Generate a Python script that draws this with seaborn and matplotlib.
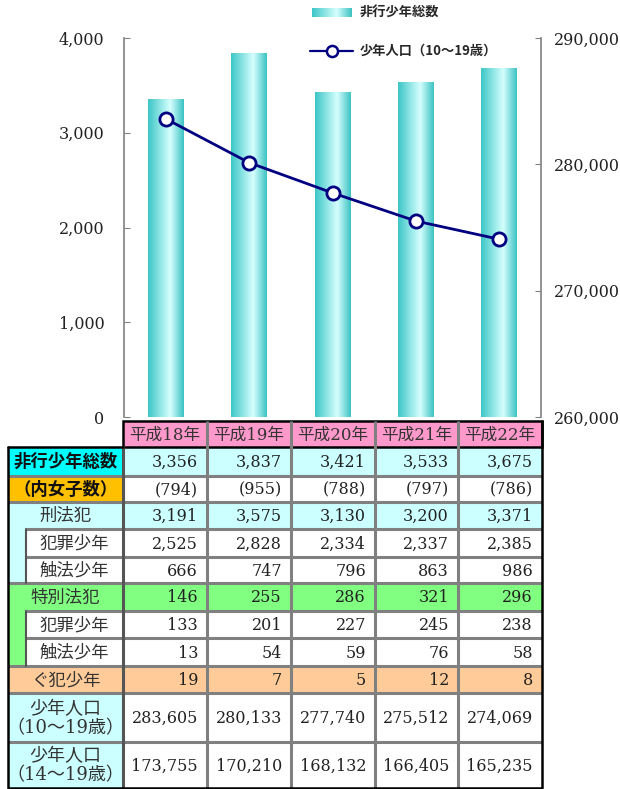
import numpy as np
import pandas as pd
import matplotlib
matplotlib.use('Agg')
import matplotlib.pyplot as plt
import seaborn as sns
from matplotlib.colors import LinearSegmentedColormap
from matplotlib.patches import Rectangle
from matplotlib.ticker import FuncFormatter, MultipleLocator

# data
years = ['平成18年', '平成19年', '平成20年', '平成21年', '平成22年']
delinquent_total = [3356, 3837, 3421, 3533, 3675]
female = [794, 955, 788, 797, 786]
penal = [3191, 3575, 3130, 3200, 3371]
penal_crime = [2525, 2828, 2334, 2337, 2385]
penal_touch = [666, 747, 796, 863, 986]
special = [146, 255, 286, 321, 296]
special_crime = [133, 201, 227, 245, 238]
special_touch = [13, 54, 59, 76, 58]
pre_delinquent = [19, 7, 5, 12, 8]
pop_10_19 = [283605, 280133, 277740, 275512, 274069]
pop_14_19 = [173755, 170210, 168132, 166405, 165235]

sns.set_style('white')
plt.rcParams['font.family'] = ['DejaVu Serif', 'Noto Sans CJK JP']
JP = ['Noto Sans CJK JP']
NAVY = '#000080'
GRAY = '#808080'
NUM_SIZE = 11.5

W, H = 620, 789
fig = plt.figure(figsize=(W / 100, H / 100), dpi=100)


def fx(px):
    return px / W


def fy(py):
    return 1 - py / H


# --- chart ---
ax = fig.add_axes([fx(124), fy(417), fx(541) - fx(124), fy(38) - fy(417)])
df = pd.DataFrame({'year': years, 'total': delinquent_total})
sns.barplot(data=df, x='year', y='total', width=0.43, color='#66DDDD', ax=ax)

bar_cmap = LinearSegmentedColormap.from_list(
    'bar', [(0, '#3CC6C6'), (0.62, '#D6FFFF'), (1, '#3CC2C2')])
grad = np.linspace(0, 1, 256).reshape(1, -1)
for p in ax.patches:
    x0, w, h = p.get_x(), p.get_width(), p.get_height()
    ax.imshow(grad, cmap=bar_cmap, extent=[x0, x0 + w, 0, h], aspect='auto', zorder=2)
    p.set_facecolor('none')
    p.set_edgecolor('none')

ax.set_xlim(-0.5, 4.5)
ax.set_ylim(0, 4000)
ax.set_xlabel('')
ax.set_ylabel('')
ax.set_xticks([])
ax.yaxis.set_major_locator(MultipleLocator(1000))
ax.yaxis.set_major_formatter(FuncFormatter(lambda v, _: f'{int(v):,}'))
ax.tick_params(axis='y', direction='in', length=4, color=GRAY, labelsize=NUM_SIZE,
               pad=14, labelcolor='#222222', left=True)
for s in ['top', 'bottom', 'right']:
    ax.spines[s].set_visible(False)
ax.spines['left'].set_color(GRAY)
ax.spines['left'].set_linewidth(1.2)

ax2 = ax.twinx()
sns.lineplot(x=np.arange(len(years)), y=pop_10_19, ax=ax2, color=NAVY, lw=2,
             marker='o', markersize=9.5, markerfacecolor='white',
             markeredgecolor=NAVY, markeredgewidth=2)
ax2.set_ylim(260000, 290000)
ax2.yaxis.set_major_locator(MultipleLocator(10000))
ax2.yaxis.set_major_formatter(FuncFormatter(lambda v, _: f'{int(v):,}'))
ax2.tick_params(axis='y', direction='in', length=4, color=GRAY, labelsize=NUM_SIZE,
                pad=9, labelcolor='#222222', right=True)
for s in ['top', 'bottom', 'left']:
    ax2.spines[s].set_visible(False)
ax2.spines['right'].set_color(GRAY)
ax2.spines['right'].set_linewidth(1.2)
ax2.set_xlim(-0.5, 4.5)

# --- overlay: legend and table ---
tab = fig.add_axes([0, 0, 1, 1])
tab.patch.set_facecolor('none')
tab.axis('off')

# legend
tab.imshow(grad, cmap=bar_cmap, extent=[312, 352, 17, 8], aspect='auto')
tab.text(360, 13, '非行少年総数', family=JP, fontsize=9.5, fontweight='bold',
         va='center', ha='left')
tab.plot([310, 353], [51, 51], color=NAVY, lw=1.6)
tab.plot([331.5], [51], marker='o', ms=8, mfc='white', mec=NAVY, mew=1.8)
tab.text(360, 51, '少年人口（10～19歳）', family=JP, fontsize=9.5,
         fontweight='bold', va='center', ha='left')

col_edges = [123, 207, 291, 375, 458, 542]
row_edges = [421, 447, 476, 502, 529, 557, 583, 611, 638, 666, 693, 742, 788]
LX, IX = 8, 26

table_rows = [
    ('非行少年総数', [f'{v:,}' for v in delinquent_total], '#00FFFF', '#CCFFFF', False, True),
    ('（内女子数）', [f'({v})' for v in female], '#FFC000', 'white', False, True),
    ('刑法犯', [f'{v:,}' for v in penal], '#CCFFFF', '#CCFFFF', False, False),
    ('犯罪少年', [f'{v:,}' for v in penal_crime], 'white', 'white', True, False),
    ('触法少年', [f'{v:,}' for v in penal_touch], 'white', 'white', True, False),
    ('特別法犯', [f'{v:,}' for v in special], '#80FF80', '#80FF80', False, False),
    ('犯罪少年', [f'{v:,}' for v in special_crime], 'white', 'white', True, False),
    ('触法少年', [f'{v:,}' for v in special_touch], 'white', 'white', True, False),
    ('ぐ犯少年', [f'{v:,}' for v in pre_delinquent], '#FFCC99', '#FFCC99', False, False),
    ('少年人口\n（10～19歳）', [f'{v:,}' for v in pop_10_19], '#CCFFFF', 'white', False, False),
    ('少年人口\n（14～19歳）', [f'{v:,}' for v in pop_14_19], '#CCFFFF', 'white', False, False),
]
strip_color = {3: '#CCFFFF', 4: '#CCFFFF', 6: '#80FF80', 7: '#80FF80'}

# header
for j, yr in enumerate(years):
    x0, x1 = col_edges[j], col_edges[j + 1]
    tab.add_patch(Rectangle((x0, row_edges[0]), x1 - x0, row_edges[1] - row_edges[0],
                            facecolor='#FF99CC', edgecolor='none'))
    tab.text((x0 + x1) / 2, (row_edges[0] + row_edges[1]) / 2 + 1, yr,
             fontsize=12, ha='center', va='center', color='#333333')

for i, (lab, vals, lab_c, cell_c, indented, bold) in enumerate(table_rows):
    y0, y1 = row_edges[i + 1], row_edges[i + 2]
    yc = (y0 + y1) / 2 + 1
    if indented:
        tab.add_patch(Rectangle((LX, y0), IX - LX, y1 - y0, facecolor=strip_color[i],
                                edgecolor='none'))
        tab.add_patch(Rectangle((IX, y0), col_edges[0] - IX, y1 - y0, facecolor=lab_c,
                                edgecolor='none'))
        lx0 = IX
    else:
        tab.add_patch(Rectangle((LX, y0), col_edges[0] - LX, y1 - y0, facecolor=lab_c,
                                edgecolor='none'))
        lx0 = LX
    tab.add_patch(Rectangle((col_edges[0], y0), col_edges[-1] - col_edges[0], y1 - y0,
                            facecolor=cell_c, edgecolor='none'))
    two_line = '\n' in lab
    tab.text((lx0 + col_edges[0]) / 2, yc, lab, fontsize=13 if two_line else 12.5,
             ha='center', va='center',
             fontweight='bold' if bold else 'normal', color='#111111' if bold else '#333333',
             linespacing=1.1)
    for j, v in enumerate(vals):
        tab.text(col_edges[j + 1] - 9, yc, v, fontsize=NUM_SIZE, ha='right', va='center',
                 color='#222222')

# grid lines
for k in range(2, len(row_edges) - 1):
    below = k - 1  # index of row below this line
    x_start = IX if below in (3, 4, 6, 7) else LX
    tab.plot([x_start, col_edges[-1]], [row_edges[k]] * 2, color=GRAY, lw=2.2,
             solid_capstyle='butt')
for x in col_edges[1:-1]:
    tab.plot([x, x], [row_edges[0], row_edges[-1]], color=GRAY, lw=2.2,
             solid_capstyle='butt')
tab.plot([col_edges[0]] * 2, [row_edges[1], row_edges[-1]], color='#555555', lw=2.2)
tab.plot([IX, IX], [row_edges[4], row_edges[6]], color='#555555', lw=1.5)
tab.plot([IX, IX], [row_edges[7], row_edges[9]], color='#555555', lw=1.5)

# outer borders
tab.add_patch(Rectangle((col_edges[0], row_edges[0]), col_edges[-1] - col_edges[0],
                        row_edges[1] - row_edges[0], facecolor='none',
                        edgecolor='black', lw=1.8))
tab.plot([LX, LX, col_edges[-1], col_edges[-1]],
         [row_edges[1], row_edges[-1], row_edges[-1], row_edges[0]],
         color='black', lw=1.8)
tab.plot([LX, col_edges[0]], [row_edges[1]] * 2, color='black', lw=1.8)

tab.set_xlim(0, W)
tab.set_ylim(H, 0)

fig.savefig('out.png', dpi=100)
